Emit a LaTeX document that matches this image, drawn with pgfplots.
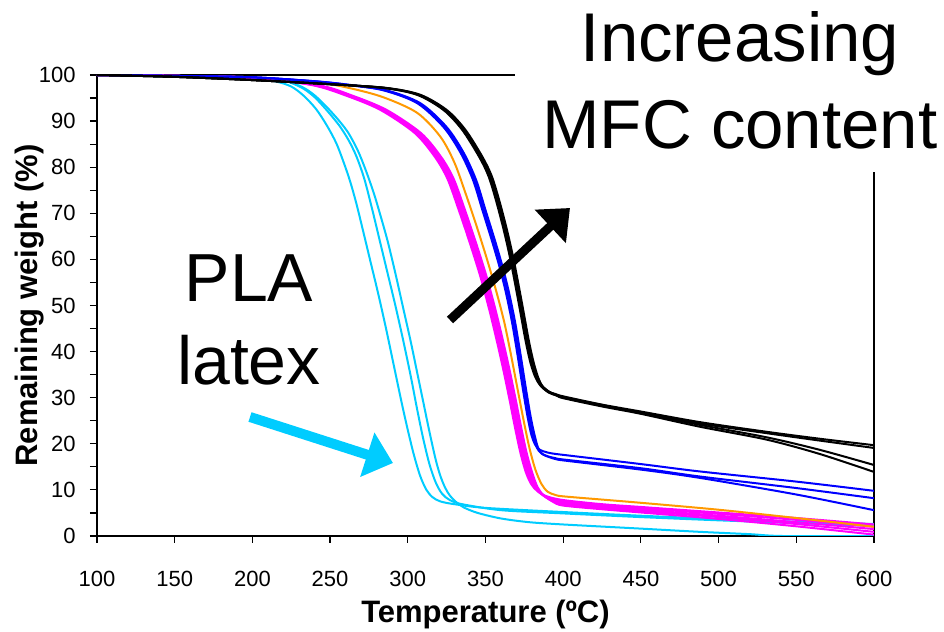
\documentclass[border=0pt]{standalone}
\usepackage{fontspec}
\setmainfont{Liberation Sans}
\usepackage{pgfplots}
\pgfplotsset{compat=1.18}
\usetikzlibrary{arrows.meta}
\definecolor{cyanl}{RGB}{0,204,255}
\definecolor{mag}{RGB}{255,0,255}
\definecolor{orng}{RGB}{255,153,0}
\definecolor{blu}{RGB}{0,0,255}
\begin{document}
\begin{tikzpicture}
\path[use as bounding box] (-48.5pt,-48pt) rectangle (423.5pt,268pt);
\begin{axis}[at={(0,0)}, anchor=south west, scale only axis,
  width=388.5pt, height=230.5pt,
  xmin=100, xmax=600, ymin=0, ymax=100,
  xtick={100,150,...,600}, ytick={0,10,...,100}, minor ytick={5,15,...,95},
  tick pos=left, tick align=outside,
  major tick length=3.5pt, minor tick length=3.5pt,
  tick style={black, line width=0.6pt},
  axis line style={line width=0.6pt},
  /pgf/number format/assume math mode=true,
  ticklabel style={font=\fontsize{11}{13}\selectfont},
  xticklabel style={anchor=north, inner sep=0pt, yshift=-14pt},
  yticklabel style={anchor=east, inner sep=0pt, xshift=-7pt},
  xlabel={Temperature (ºC)}, ylabel={Remaining weight (\%)},
  label style={font=\fontsize{15.5}{18}\selectfont\bfseries},
  xlabel style={at={(axis description cs:0.5,-0.17)}, anchor=center},
  ylabel style={at={(axis description cs:-0.0862,0.5)}, anchor=center},
  every axis plot/.append style={line width=1pt, no markers, smooth, tension=0.5},
]
% PLA latex (cyan)
\addplot[cyanl] coordinates {(100,100) (150,99.7) (200,99.3) (215,98.6) (225,97.5) (233,95.5) (241,92.6) (248,89) (254,85.2) (259,80.8) (263,76.8) (267,72) (271,66.5) (276,59.5) (281,52.5) (286,45) (291,37) (296,29) (300,23) (304,17.5) (308,13) (312,10) (316,8.4) (321,7.5) (330,6.9) (350,6.1) (400,5.2) (450,4.4) (500,3.7) (550,3.1) (600,2.6)};
\addplot[cyanl] coordinates {(100,100) (150,99.7) (200,99.4) (220,98.8) (232,97.2) (240,95.2) (248,92.3) (256,89) (262,85.8) (267,82.3) (272,77.5) (277,71) (282,64) (287,57) (292,50) (297,42.5) (302,34.5) (306,27.5) (310,21) (314,15.5) (318,11.6) (322,9.2) (327,7.8) (335,6.9) (360,5.6) (400,4.9) (450,4.1) (500,3.4) (550,2.8) (600,2.2)};
\addplot[cyanl] coordinates {(100,100) (150,99.7) (200,99.4) (220,98.8) (232,97.4) (240,95.6) (248,93) (256,90) (262,87.3) (268,83.5) (273,79.3) (278,74.5) (282,70) (287,64) (292,57) (297,49.5) (302,42) (306,35.5) (310,29) (314,22.5) (318,16.5) (321,13) (324,10.5) (327,8.8) (331,7.4) (336,6.2) (345,5.0) (360,3.8) (378,3.0) (400,2.5) (450,1.6) (488,0.9) (520,0.4) (541,0) (600,0)};
% magenta
\addplot[mag] coordinates {(100,100) (150,99.8) (200,99.4) (238.5,97.8) (260.5,95.5) (282.5,92.4) (304.5,87.4) (317.5,82.2) (325.5,77.5) (332.5,71) (339.5,64) (346.5,56.5) (352.5,49) (357.5,42) (361.5,36) (365.5,29.5) (369,23.5) (372.5,18) (376,13.8) (379.5,11.2) (383.5,9.7) (389.5,8.6) (400,7.8) (425,6.9) (450,6.3) (500,5.1) (550,3.9) (600,2.5)};
\addplot[mag] coordinates {(100,100) (150,99.8) (200,99.4) (239.5,97.8) (261.5,95.5) (283.5,92.4) (305.5,87.4) (318.5,82.2) (326.5,77.5) (333.5,71) (340.5,64) (347.5,56.5) (353.5,49) (358.5,42) (362.5,36) (366.5,29.5) (370,23.5) (373.5,18) (377,13.8) (380.5,11.1) (384.5,9.5) (390.5,8.3) (400,7.5) (425,6.6) (450,6.0) (500,4.8) (550,3.5) (600,2.0)};
\addplot[mag] coordinates {(100,100) (150,99.8) (200,99.4) (240.5,97.8) (262.5,95.5) (284.5,92.4) (306.5,87.4) (319.5,82.2) (327.5,77.5) (334.5,71) (341.5,64) (348.5,56.5) (354.5,49) (359.5,42) (363.5,36) (367.5,29.5) (371,23.5) (374.5,18) (378,13.8) (381.5,10.9) (385.5,9.2) (391.5,8.0) (400,7.2) (425,6.4) (450,5.7) (500,4.4) (550,3.0) (600,1.5)};
\addplot[mag] coordinates {(100,100) (150,99.8) (200,99.4) (241.5,97.8) (263.5,95.5) (285.5,92.4) (307.5,87.4) (320.5,82.2) (328.5,77.5) (335.5,71) (342.5,64) (349.5,56.5) (355.5,49) (360.5,42) (364.5,36) (368.5,29.5) (372,23.5) (375.5,18) (379,13.8) (382.5,10.8) (386.5,9.0) (392.5,7.7) (400,6.9) (425,6.1) (450,5.4) (500,4.1) (550,2.6) (600,0.9)};
\addplot[mag] coordinates {(100,100) (150,99.8) (200,99.4) (242.5,97.8) (264.5,95.5) (286.5,92.4) (308.5,87.4) (321.5,82.2) (329.5,77.5) (336.5,71) (343.5,64) (350.5,56.5) (356.5,49) (361.5,42) (365.5,36) (369.5,29.5) (373,23.5) (376.5,18) (380,13.8) (383.5,10.6) (387.5,8.8) (393.5,7.4) (400,6.6) (425,5.8) (450,5.1) (500,3.7) (550,2.1) (600,0.3)};
% orange
\addplot[orng] coordinates {(100,100) (150,99.8) (200,99.5) (240,98.5) (262,97.2) (284,95.2) (306,91.8) (321,86.6) (330,81) (337,74.5) (344,67.5) (351,60) (357,53) (362,46.5) (366,40) (370,33) (374,26) (378,19.5) (382,14.5) (386,11.3) (390,9.6) (395,8.9) (400,8.6) (425,7.9) (450,7.2) (500,5.7) (550,3.9) (600,2.0)};
% blue
\addplot[blu] coordinates {(100,100) (150,99.8) (200,99.5) (240,98.6) (262,97.8) (284,96.7) (306,93.9) (323,88.7) (334,83.1) (342,77.2) (348,70.7) (354,64.2) (359,58.4) (363,53) (367,46.5) (370.5,39.5) (374,32) (377,26) (379.5,22) (382,19.8) (385,18.7) (390,18.1) (395,17.8) (400,17.6) (450,15.6) (488,14.0) (550,11.8) (600,9.8)};
\addplot[blu] coordinates {(100,100) (150,99.8) (200,99.5) (241,98.6) (263,97.8) (285,96.7) (307,93.9) (324,88.7) (335,83.1) (343,77.2) (349,70.7) (355,64.2) (360,58.4) (364,53) (368,46.5) (371.5,39.5) (375,32) (378,26) (380.5,22) (383,19.2) (386,17.9) (391,17.2) (395,16.9) (400,16.6) (450,14.7) (488,12.9) (550,10.4) (600,8.2)};
\addplot[blu] coordinates {(100,100) (150,99.8) (200,99.5) (242,98.6) (264,97.8) (286,96.7) (308,93.9) (325,88.7) (336,83.1) (344,77.2) (350,70.7) (356,64.2) (361,58.4) (365,53) (369,46.5) (372.5,39.5) (376,32) (379,26) (381.5,22) (384,19.0) (387,17.7) (392,17.0) (396,16.7) (400,16.4) (450,14.4) (488,12.6) (550,9.0) (600,5.6)};
% black
\addplot[black] coordinates {(100,100) (150,99.6) (200,98.9) (250,98.0) (284,97.2) (306,95.7) (323,92.4) (335,88.1) (346,82.2) (352,78) (357,72.5) (362,66) (366,60) (370,53) (373,47.5) (376,42) (379,37.5) (382,34.5) (385,32.8) (390,31.4) (395,30.8) (400,30.3) (425,28.5) (450,27.0) (488,24.7) (531,22.6) (565,21.1) (600,19.7)};
\addplot[black] coordinates {(100,100) (150,99.6) (200,98.9) (250,98.0) (284.7,97.2) (306.7,95.7) (323.7,92.4) (335.7,88.1) (346.7,82.2) (352.7,78) (357.7,72.5) (362.7,66) (366.7,60) (370.7,53) (373.7,47.5) (376.7,42) (379.7,37.5) (382.7,34.3) (385.7,32.5) (390.7,31.1) (395.5,30.5) (400,30.0) (425,28.3) (450,26.8) (488,24.4) (531,22.3) (565,20.7) (600,19.1)};
\addplot[black] coordinates {(100,100) (150,99.6) (200,98.9) (250,98.0) (285.4,97.2) (307.4,95.7) (324.4,92.4) (336.4,88.1) (347.4,82.2) (353.4,78) (358.4,72.5) (363.4,66) (367.4,60) (371.4,53) (374.4,47.5) (377.4,42) (380.4,37.5) (383.4,34.4) (386.4,32.6) (391.4,31.2) (396,30.6) (400,30.1) (425,28.4) (450,26.7) (488,24.1) (531,21.4) (565,18.7) (600,15.4)};
\addplot[black] coordinates {(100,100) (150,99.6) (200,98.9) (250,98.0) (286.1,97.2) (308.1,95.7) (325.1,92.4) (337.1,88.1) (348.1,82.2) (354.1,78) (359.1,72.5) (364.1,66) (368.1,60) (372.1,53) (375.1,47.5) (378.1,42) (381.1,37.5) (384.1,34.2) (387.1,32.3) (392.1,31.0) (396.5,30.4) (400,29.9) (425,28.1) (450,26.5) (488,23.7) (531,20.9) (565,17.8) (600,13.9)};
\end{axis}
% cover the top-right corner of the frame, as in the original
\fill[white] (209pt,182pt) rectangle (430pt,275pt);
\node[anchor=base, inner sep=0pt, font=\fontsize{34.5}{40}\selectfont] at (321.5pt,237pt) {Increasing};
\node[anchor=base, inner sep=0pt, font=\fontsize{34.5}{40}\selectfont] at (321.5pt,193.5pt) {MFC content};
\node[anchor=base, inner sep=0pt, font=\fontsize{34}{40}\selectfont] at (76pt,117pt) {PLA};
\node[anchor=base, inner sep=0pt, font=\fontsize{34}{40}\selectfont] at (76pt,75.5pt) {latex};
\draw[cyanl, line width=5pt, -{Triangle[length=13.5pt,width=22.5pt]}] (76.5pt,59.5pt) -- (148pt,36.5pt);
\draw[black, line width=4.5pt, -{Triangle[length=13.5pt,width=22pt]}] (176.5pt,108pt) -- (236.5pt,164pt);
\end{tikzpicture}
\end{document}
